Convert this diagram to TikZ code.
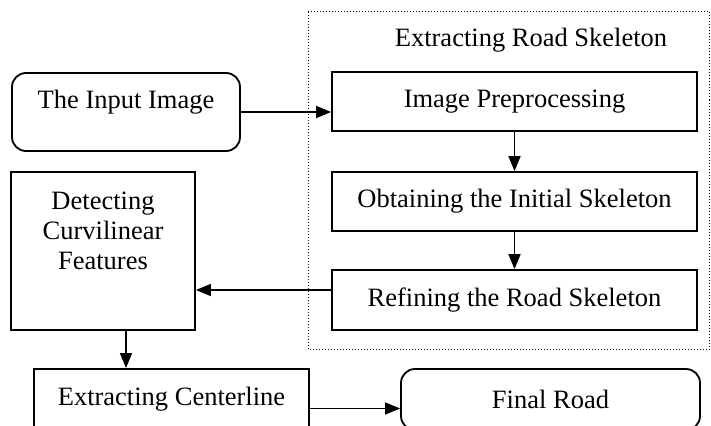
\documentclass[tikz,border=0pt]{standalone}
\usepackage{fontspec}
\setmainfont{Liberation Serif}
\usetikzlibrary{arrows.meta}

\begin{document}
\begin{tikzpicture}[x=1pt,y=-1pt,
    box/.style={draw,line width=1.8pt,inner sep=0pt},
    rbox/.style={box,rounded corners=14pt},
    txt/.style={inner sep=0pt,font=\fontsize{26.5}{30}\selectfont,align=center},
    arr/.style={line width=1.6pt,-{Triangle[length=15pt,width=12pt]}}]
    \path[use as bounding box,clip] (0,0) rectangle (711,425);
    % extracting road skeleton group
    \draw[dotted,line width=1pt] (308,12) rectangle (709.5,349);
    \node[txt] (skel) at (531,40) {Extracting Road Skeleton};
    \node[box,txt,minimum width=365pt,minimum height=59pt] (prep) at (514.5,101.5) {Image Preprocessing};
    \node[box,txt,minimum width=365pt,minimum height=59pt] (init) at (514.5,201.5) {Obtaining the Initial Skeleton};
    \node[box,txt,minimum width=365pt,minimum height=60pt] (refine) at (514.5,300) {Refining the Road Skeleton};
    % left column
    \node[rbox,minimum width=228pt,minimum height=78pt] (input) at (126,112) {};
    \node[txt] (inputtxt) at (126,102) {The Input Image};
    \node[box,minimum width=184pt,minimum height=158pt] (curv) at (103,251) {};
    \node[txt] (curvtxt) at (103,231) {Detecting\\Curvilinear\\Features};
    \node[box,txt,minimum width=275pt,minimum height=61pt] (center) at (171.5,399.5) {Extracting Centerline};
    \node[rbox,txt,minimum width=299pt,minimum height=61pt] (final) at (550.5,399.5) {Final Road};
    % arrows
    \draw[arr] (input.east) -- (input.east -| prep.west);
    \draw[arr] (prep) -- (init);
    \draw[arr] (init) -- (refine);
    \draw[arr] ([yshift=10pt]refine.west) -- ([yshift=10pt]refine.west -| curv.east);
    \draw[arr] ([xshift=23pt]curv.south) -- ([xshift=23pt]curv.south |- center.north);
    \draw[arr] ([yshift=-9pt]center.east) -- ([yshift=-9pt]center.east -| final.west);
\end{tikzpicture}
\end{document}
